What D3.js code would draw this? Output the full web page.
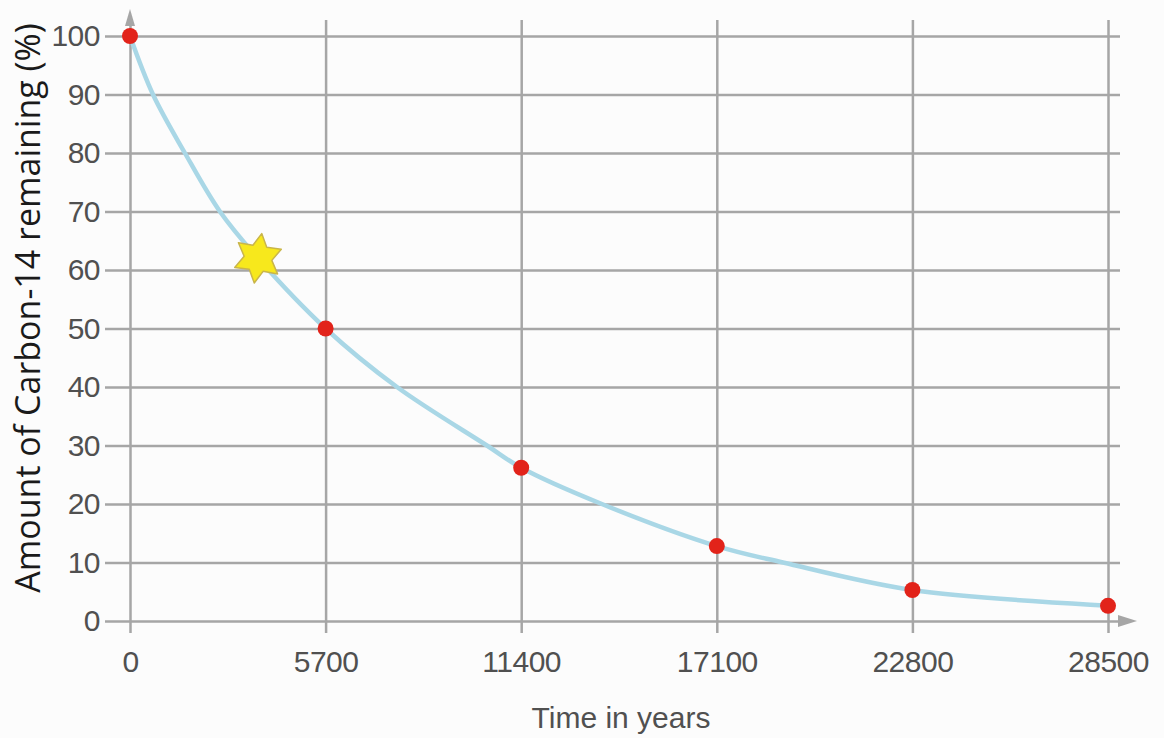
<!DOCTYPE html>
<html>
<head>
<meta charset="utf-8">
<script src="https://cdn.jsdelivr.net/npm/d3@7"></script>
<style>
  body { margin: 0; background: #fcfcfc; }
  svg { display: block; }
  .tick text { fill: #505050; font-family: "Liberation Sans", Arial, sans-serif; font-size: 30px; letter-spacing: -0.5px; }
  .tick line { stroke: #a6a6a6; stroke-width: 2.5; }
</style>
</head>
<body>
<div id="chart"></div>
<script>
// data
const yearTicks = [0, 5700, 11400, 17100, 22800, 28500];
const percentTicks = [0, 10, 20, 30, 40, 50, 60, 70, 80, 90, 100];
const measuredYears = [0, 5700, 11400, 17100, 22800, 28500];
const measuredPercent = [100, 50, 26.2, 12.8, 5.3, 2.6];
// points
const curveYears = [0, 670, 1600, 2620, 3730, 5700, 7780, 10400, 11400, 13750, 17100, 19030, 22800, 28500];
const curvePercent = [100, 90, 80, 70, 62, 50, 40, 30, 26.2, 20, 12.8, 10, 5.3, 2.6];
const starYear = 3730;
const starPercent = 62;

const width = 1164, height = 738;

const x = d3.scaleLinear().domain([0, 28500]).range([130, 1108]);
const y = d3.scaleLinear().domain([0, 100]).range([621, 36]);

const svg = d3.select('#chart').append('svg')
  .attr('width', width)
  .attr('height', height);

const gridLeft = 105, gridRight = 1120, gridTop = 20, gridBottom = 633;

// horizontal grid + y labels
svg.append('g')
  .attr('class', 'y-axis')
  .attr('transform', `translate(${gridLeft},0)`)
  .call(d3.axisLeft(y).tickValues(percentTicks).tickSize(-(gridRight - gridLeft)).tickPadding(5))
  .call(g => g.select('.domain').remove());

// vertical grid + x labels
svg.append('g')
  .attr('class', 'x-axis')
  .attr('transform', `translate(0,${gridBottom})`)
  .call(d3.axisBottom(x).tickValues(yearTicks).tickSize(-(gridBottom - gridTop)).tickPadding(18).tickFormat(d3.format('d')))
  .call(g => g.select('.domain').remove());

// axis arrows
svg.append('path')
  .attr('d', `M${x(0) - 5},26 L${x(0)},9 L${x(0) + 5},26 Z`)
  .attr('fill', '#a6a6a6');
svg.append('path')
  .attr('d', `M${gridRight - 2},${y(0) - 6} L${gridRight + 17},${y(0)} L${gridRight - 2},${y(0) + 6} Z`)
  .attr('fill', '#a6a6a6');

// decay curve
const line = d3.line()
  .x(d => x(d[0]))
  .y(d => y(d[1]))
  .curve(d3.curveCatmullRom.alpha(0.5));

svg.append('path')
  .datum(d3.zip(curveYears, curvePercent))
  .attr('d', line)
  .attr('fill', 'none')
  .attr('stroke', '#a9d7e6')
  .attr('stroke-width', 4.5)
  .attr('stroke-linecap', 'round');

// measured points
svg.append('g')
  .selectAll('circle')
  .data(d3.zip(measuredYears, measuredPercent))
  .enter().append('circle')
    .attr('cx', d => x(d[0]))
    .attr('cy', d => y(d[1]))
    .attr('r', 8)
    .attr('fill', '#e2231a');

// six pointed star
const starPts = d3.range(12).map(i => {
  const r = i % 2 === 0 ? 25 : 14;
  const a = (i * Math.PI / 6) + 0.15;
  return [Math.sin(a) * r, -Math.cos(a) * r];
});
svg.append('path')
  .attr('d', 'M' + starPts.join('L') + 'Z')
  .attr('transform', `translate(${x(starYear)},${y(starPercent)})`)
  .attr('fill', '#f7e81c')
  .attr('stroke', '#c9b54a')
  .attr('stroke-width', 1.5)
  .attr('stroke-linejoin', 'round');

// axis titles
svg.append('text')
  .attr('x', 621)
  .attr('y', 728)
  .attr('text-anchor', 'middle')
  .style('font-family', '"Liberation Sans", Arial, sans-serif')
  .style('font-size', '30px')
  .style('fill', '#505050')
  .text('Time in years');

svg.append('text')
  .attr('transform', 'translate(40,308) rotate(-90)')
  .attr('text-anchor', 'middle')
  .style('font-family', '"Open Sans", sans-serif')
  .style('font-size', '34px')
  .style('fill', '#1a1a1a')
  .text('Amount of Carbon-14 remaining (%)');
</script>
</body>
</html>
